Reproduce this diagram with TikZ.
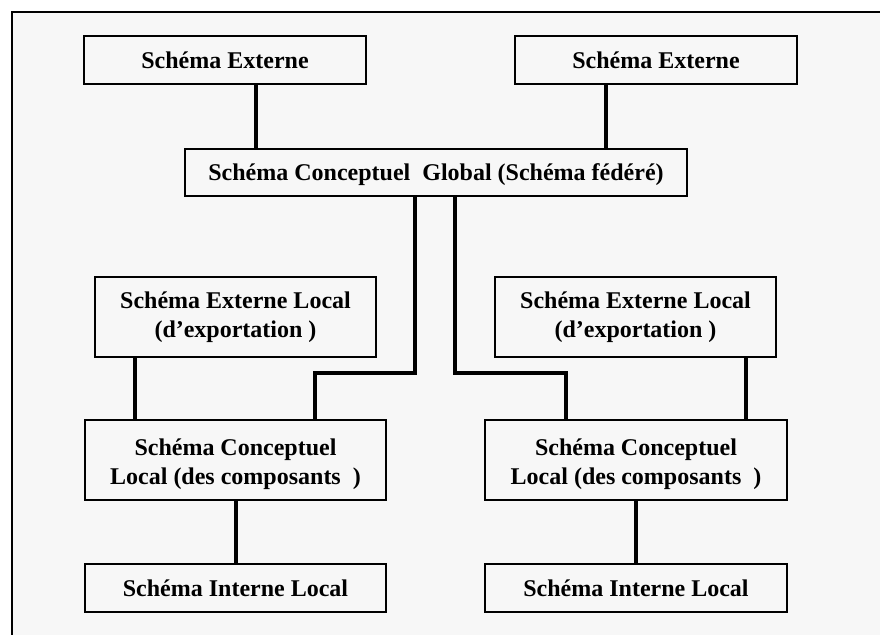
\documentclass[tikz,border=0pt]{standalone}
\usepackage{fontspec}
\setmainfont{Liberation Serif}
\definecolor{paper}{HTML}{F7F7F7}
\tikzset{
  box/.style={draw=black, line width=2pt, fill=paper, inner sep=0pt,
    font=\bfseries\fontsize{24}{29}\selectfont, align=center},
  onebox/.style={box, text height=16pt, text depth=0pt},
  link/.style={draw=black, line width=4pt, line join=miter}
}
% taller first line pushes a two-line label slightly down in its box
\newcommand{\lowerstrut}{\rule{0pt}{25pt}}
\begin{document}
\begin{tikzpicture}[x=1pt, y=-1pt]
\useasboundingbox (0,0) rectangle (880,634);
\clip (0,0) rectangle (880,634);
% frame around the sheet
\fill[white] (0,0) rectangle (880,634);
\draw[line width=2.5pt, fill=paper] (12,12) rectangle (900,660);

% boxes
\node[onebox, minimum width=282pt, minimum height=48pt] (ext1) at (225,60) {Schéma Externe};
\node[onebox, minimum width=282pt, minimum height=48pt] (ext2) at (656,60) {Schéma Externe};
\node[onebox, minimum width=502pt, minimum height=47pt] (glob) at (436,172.5) {Schéma Conceptuel\ \ Global (Schéma fédéré)};
\node[box, minimum width=281pt, minimum height=80pt] (exl1) at (235.5,317) {Schéma Externe Local\\ (d’exportation )};
\node[box, minimum width=281pt, minimum height=80pt] (exl2) at (635.5,317) {Schéma Externe Local\\ (d’exportation )};
\node[box, minimum width=301pt, minimum height=80pt] (cl1) at (235.5,460) {\lowerstrut Schéma Conceptuel\\Local (des composants\ \ )};
\node[box, minimum width=302pt, minimum height=80pt] (cl2) at (636,460) {\lowerstrut Schéma Conceptuel\\Local (des composants\ \ )};
\node[onebox, minimum width=301pt, minimum height=48pt] (int1) at (235.5,588) {Schéma Interne Local};
\node[onebox, minimum width=302pt, minimum height=48pt] (int2) at (636,588) {Schéma Interne Local};

% connector columns and elbows
\coordinate (e1) at (256,0);
\coordinate (e2) at (606,0);
\coordinate (g1) at (415,0);
\coordinate (g2) at (455,0);
\coordinate (k1) at (315,373);
\coordinate (k2) at (566,373);
\coordinate (l1) at (135,0);
\coordinate (l2) at (746,0);
\coordinate (i1) at (236,0);
\coordinate (i2) at (636,0);

% connectors
\draw[link] (ext1.south -| e1) -- (glob.north -| e1);
\draw[link] (ext2.south -| e2) -- (glob.north -| e2);
\draw[link] (glob.south -| g1) |- (k1) -- (cl1.north -| k1);
\draw[link] (glob.south -| g2) |- (k2) -- (cl2.north -| k2);
\draw[link] (exl1.south -| l1) -- (cl1.north -| l1);
\draw[link] (exl2.south -| l2) -- (cl2.north -| l2);
\draw[link] (cl1.south -| i1) -- (int1.north -| i1);
\draw[link] (cl2.south -| i2) -- (int2.north -| i2);
\end{tikzpicture}
\end{document}
